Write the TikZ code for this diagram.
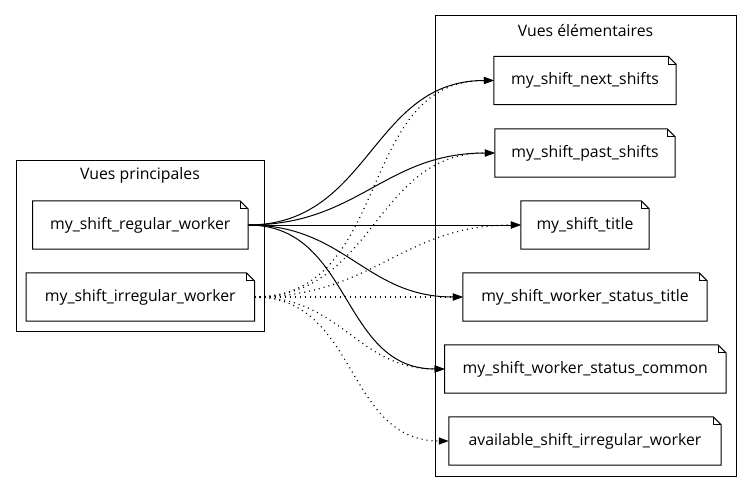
\documentclass[tikz,border=0pt]{standalone}
\usepackage{fontspec}
\setmainfont{Open Sans}
\usetikzlibrary{arrows.meta}
\tikzset{
  notebox/.style={shape=rectangle, draw=none, minimum height=48pt, inner sep=0pt, font=\fontsize{15.8}{18}\selectfont},
  clusterbox/.style={draw=black, line width=1pt},
  clustertitle/.style={font=\fontsize{15.8}{18}\selectfont, inner sep=0pt},
  solidedge/.style={line width=1pt, -{Triangle[length=10pt,width=7pt]}},
  dotedge/.style={line width=1.2pt, dash pattern=on 1pt off 4pt, -{Triangle[length=10pt,width=7pt]}},
}
\newcommand{\drawnote}[1]{%
  \draw[line width=1pt] (#1.south west) -- (#1.north west) -- ([xshift=-8pt]#1.north east) -- ([yshift=-8pt]#1.north east) -- (#1.south east) -- cycle;
  \draw[line width=1pt] ([xshift=-8pt]#1.north east) -- ([xshift=-8pt,yshift=-8pt]#1.north east) -- ([yshift=-8pt]#1.north east);
}
\begin{document}
\begin{tikzpicture}[x=1pt,y=-1pt]
\useasboundingbox[fill=white] (0,0) rectangle (752,492);
% clusters
\draw[clusterbox] (16,160) rectangle (264,331);
\node[clustertitle] (tprinc) at (140,175) {Vues principales};
\draw[clusterbox] (435,16) rectangle (736,476);
\node[clustertitle] (telem) at (585.5,31) {Vues élémentaires};
% nodes
\node[notebox, minimum width=215pt] (reg) at (140.3,225) {my\_shift\_regular\_worker};
\node[notebox, minimum width=228pt] (irr) at (140.3,297) {my\_shift\_irregular\_worker};
\node[notebox, minimum width=182pt] (next) at (585,80.5) {my\_shift\_next\_shifts};
\node[notebox, minimum width=180pt] (past) at (585,153) {my\_shift\_past\_shifts};
\node[notebox, minimum width=128pt] (title) at (585,225) {my\_shift\_title};
\node[notebox, minimum width=244pt] (wst) at (585,297) {my\_shift\_worker\_status\_title};
\node[notebox, minimum width=281pt] (wsc) at (585.3,369) {my\_shift\_worker\_status\_common};
\node[notebox, minimum width=272pt] (avail) at (585,441) {available\_shift\_irregular\_worker};
\foreach \n in {reg,irr,next,past,title,wst,wsc,avail}{\drawnote{\n}}
% solid edges
\draw[solidedge] (reg.east) to[out=0,in=180,looseness=1.1] (next.west);
\draw[solidedge] (reg.east) to[out=0,in=180,looseness=1.1] (past.west);
\draw[solidedge] (reg.east) -- (title.west);
\draw[solidedge] (reg.east) to[out=0,in=180,looseness=1.1] (wst.west);
\draw[solidedge] (reg.east) to[out=0,in=180,looseness=1.1] (wsc.west);
% dotted edges
\draw[dotedge] (irr.east) to[out=0,in=180,looseness=1.1] (next.west);
\draw[dotedge] (irr.east) to[out=0,in=180,looseness=1.1] (past.west);
\draw[dotedge] (irr.east) to[out=0,in=180,looseness=1.1] (title.west);
\draw[dotedge] (irr.east) -- (wst.west);
\draw[dotedge] (irr.east) to[out=0,in=180,looseness=1.1] (wsc.west);
\draw[dotedge] (irr.east) to[out=0,in=180,looseness=1.1] (avail.west);
\end{tikzpicture}
\end{document}
